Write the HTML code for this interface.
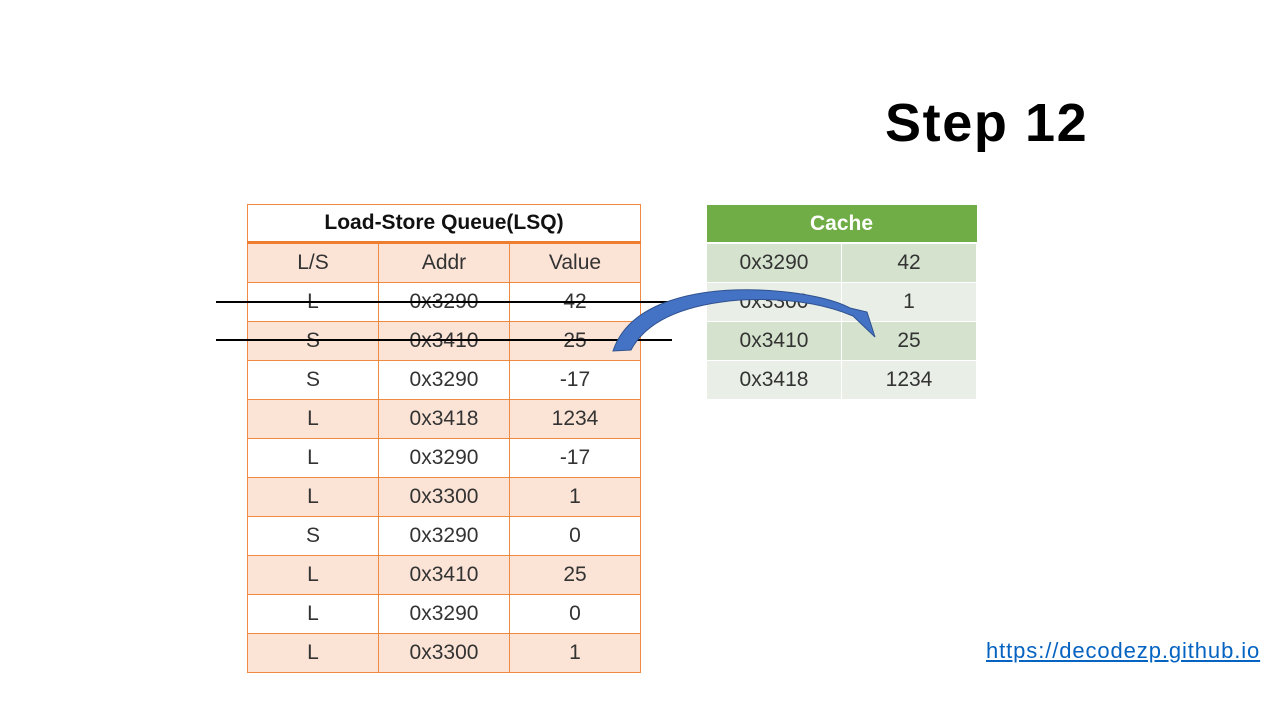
<!DOCTYPE html>
<html><head><meta charset="utf-8"><style>
body{margin:0;width:1280px;height:720px;background:#fff;overflow:hidden;position:relative;font-family:"Liberation Sans","Noto Sans CJK SC",sans-serif}
table{border-collapse:collapse;position:absolute;table-layout:fixed}
#lsq{left:247px;top:204px;width:393px}
#lsq td{height:38px;border:1px solid #F08A43;text-align:center;font-size:21px;color:#333;padding:0}
#lsq tr.s td{background:#FBE4D6}
#lsq th{height:36px;border:1px solid #F08A43;border-bottom:3px solid #ED7D31;font-size:21px;font-weight:bold;color:#111;padding:0}
#cache{left:706px;top:205px;width:270px}
#cache th{background:#70AD47;color:#fff;height:37px;font-size:21px;font-weight:bold;border-bottom:2px solid #fff;padding:0}
#cache td{height:38px;border:1px solid #fff;text-align:center;font-size:21px;color:#333;padding:0}
#cache tr.d td{background:#D5E3CE}#cache tr.l td{background:#E9EFE6}
.title{position:absolute;left:885px;top:92px;font-size:54px;font-weight:bold;color:#000;letter-spacing:1.6px}
.link{position:absolute;left:986px;top:638px;font-size:22px;color:#0563C1;text-decoration:underline;letter-spacing:0.9px}
svg{position:absolute;left:0;top:0}
</style></head><body>
<div class="title">Step 12</div>
<table id="lsq">
<colgroup><col style="width:131px"><col style="width:131px"><col style="width:131px"></colgroup>
<tr><th colspan="3">Load-Store Queue(LSQ)</th></tr>
<tr class="s"><td>L/S</td><td>Addr</td><td>Value</td></tr>
<tr><td>L</td><td>0x3290</td><td>42</td></tr>
<tr class="s"><td>S</td><td>0x3410</td><td>25</td></tr>
<tr><td>S</td><td>0x3290</td><td>-17</td></tr>
<tr class="s"><td>L</td><td>0x3418</td><td>1234</td></tr>
<tr><td>L</td><td>0x3290</td><td>-17</td></tr>
<tr class="s"><td>L</td><td>0x3300</td><td>1</td></tr>
<tr><td>S</td><td>0x3290</td><td>0</td></tr>
<tr class="s"><td>L</td><td>0x3410</td><td>25</td></tr>
<tr><td>L</td><td>0x3290</td><td>0</td></tr>
<tr class="s"><td>L</td><td>0x3300</td><td>1</td></tr>
</table>
<table id="cache">
<colgroup><col style="width:135px"><col style="width:135px"></colgroup>
<tr><th colspan="2">Cache</th></tr>
<tr class="d"><td>0x3290</td><td>42</td></tr>
<tr class="l"><td>0x3300</td><td>1</td></tr>
<tr class="d"><td>0x3410</td><td>25</td></tr>
<tr class="l"><td>0x3418</td><td>1234</td></tr>
</table>
<svg width="1280" height="720">
<line x1="216" y1="302" x2="672" y2="302" stroke="#000" stroke-width="2"/>
<line x1="216" y1="340" x2="672" y2="340" stroke="#000" stroke-width="2"/>
<path d="M613,351 C630,300 700,288 760,290 C805,292 835,300 850,308 L867,312 L875,337 L853,316 C820,302 780,298 740,300 C690,304 648,318 631,350 Z" fill="#4472C4" stroke="#2F528F" stroke-width="1"/>
</svg>
<div class="link">https://decodezp.github.io</div>
</body></html>
